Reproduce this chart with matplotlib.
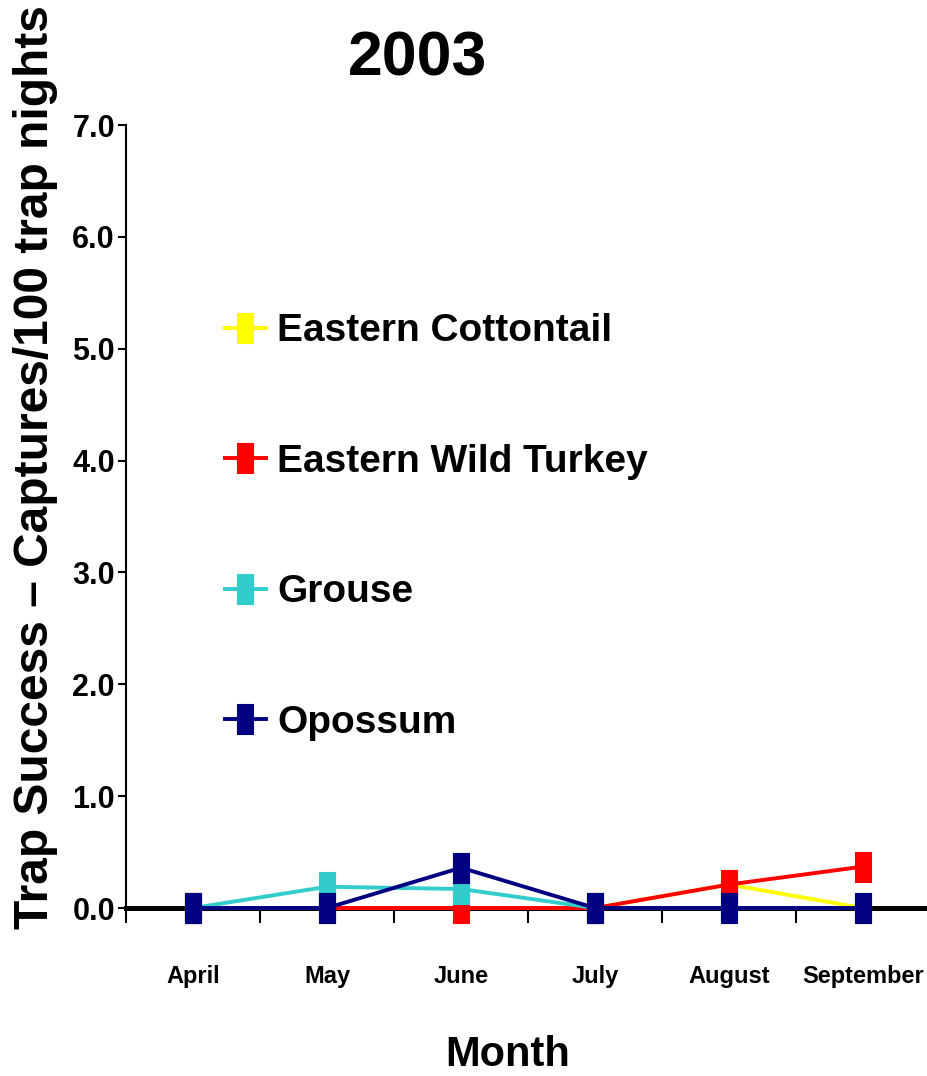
import numpy as np
import matplotlib
matplotlib.use("Agg")
import matplotlib.pyplot as plt

months = ["April", "May", "June", "July", "August", "September"]
cottontail = [0.0, 0.0, 0.0, 0.0, 0.21, 0.0]
turkey = [0.0, 0.0, 0.0, 0.0, 0.21, 0.37]
grouse = [0.0, 0.19, 0.17, 0.0, 0.0, 0.0]
opossum = [0.0, 0.0, 0.36, 0.0, 0.0, 0.0]

series = [
    ("Eastern Cottontail", cottontail, "#FFFF00"),
    ("Eastern Wild Turkey", turkey, "#FF0000"),
    ("Grouse", grouse, "#33CCCC"),
    ("Opossum", opossum, "#000080"),
]

fam = ["Liberation Sans", "DejaVu Sans"]

# tall rectangle marker (the original chart was squeezed sideways)
rect = [(-0.27, -0.5), (0.27, -0.5), (0.27, 0.5), (-0.27, 0.5), (-0.27, -0.5)]

fig = plt.figure(figsize=(9.27, 10.76), dpi=100)
ax = fig.add_axes([126 / 927, 1 - 908 / 1076, 804 / 927, 783 / 1076])

x = np.arange(len(months))
for name, vals, color in series:
    ax.plot(x, vals, color=color, linewidth=2.8, marker=rect, markersize=21,
            markeredgewidth=0.8, markeredgecolor=color, label=name,
            clip_on=False, zorder=3)

ax.set_xlim(-0.5, 5.5)
ax.set_ylim(0, 7)

ax.spines["top"].set_visible(False)
ax.spines["right"].set_visible(False)
ax.spines["left"].set_linewidth(1.5)
ax.spines["bottom"].set_linewidth(3.6)
ax.spines["bottom"].set_zorder(2)

ax.set_yticks(np.arange(0, 8, 1))
ax.set_yticklabels([f"{v:.1f}" for v in range(8)])
ax.tick_params(axis="y", direction="out", length=6, width=1.5, pad=2)
for lab in ax.get_yticklabels():
    lab.set_fontfamily(fam)
    lab.set_fontweight("bold")
    lab.set_fontsize(22)

ax.set_xticks(x)
ax.set_xticklabels(months)
ax.set_xticks(np.arange(-0.5, 6.0, 1), minor=True)
ax.tick_params(axis="x", which="major", length=0, pad=41)
ax.tick_params(axis="x", which="minor", direction="out", length=10.5, width=1.5)
for lab in ax.get_xticklabels():
    lab.set_fontfamily(fam)
    lab.set_fontweight("bold")
    lab.set_fontsize(17)

fig.text(418 / 927, 1 - 59 / 1076, "2003", ha="center", va="center",
         fontsize=45, fontweight="bold", family=fam)
fig.text(36 / 927, 1 - 467 / 1076, "Trap Success \u2013 Captures/100 trap nights",
         rotation=90, ha="center", va="center", fontsize=34.5, fontweight="bold",
         family=fam)
fig.text(508 / 927, 1 - 1066 / 1076, "Month", ha="center", va="baseline",
         fontsize=30, fontweight="bold", family=fam)

leg = ax.legend(loc="upper left", bbox_to_anchor=(206 / 927, 1 - 294 / 1076),
                bbox_transform=fig.transFigure, frameon=False, borderpad=0,
                handlelength=1.03, handletextpad=0.3, labelspacing=2.43,
                prop={"family": fam, "weight": "bold", "size": 28})

fig.savefig("out.png", dpi=100)
